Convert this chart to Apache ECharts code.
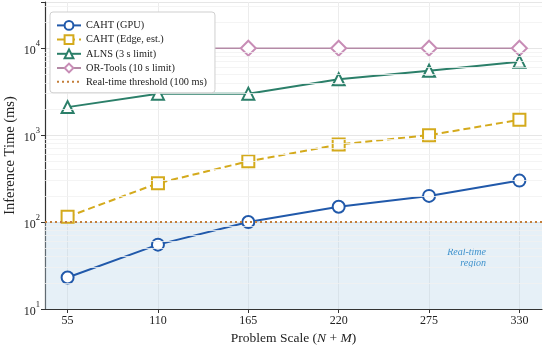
<!DOCTYPE html>
<html><head><meta charset="utf-8">
<script src="https://cdn.jsdelivr.net/npm/echarts@6/dist/echarts.min.js"></script>
<style>html,body{margin:0;padding:0;background:#fff}#c{width:550px;height:349px}</style>
</head><body><div id="c"></div>
<script>
const categories = [55, 110, 165, 220, 275, 330];
const cahtGpu = [23, 55, 100, 150, 200, 300];
const cahtEdge = [115, 280, 500, 780, 1000, 1500];
const alns = [2100, 3000, 3000, 4400, 5500, 7000];
const orTools = [10000, 10000, 10000, 10000, 10000, 10000];
const threshold = 100;
const minorGrid = [20,30,40,50,60,70,80,90,200,300,400,500,600,700,800,900,2000,3000,4000,5000,6000,7000,8000,9000,20000,30000];

const serif = '"Liberation Serif", "DejaVu Serif", serif';
const chart = echarts.init(document.getElementById('c'));
function pts(arr){ return categories.map((c,i)=>[c, arr[i]]); }
const symStyle = (c)=>({color:'#fff', borderColor:c, borderWidth:2});

chart.setOption({
  animation:false,
  textStyle:{fontFamily:serif},
  grid:{left:45, right:8, top:2, bottom:40, containLabel:false, outerBoundsMode:'none'},
  legend:{
    orient:'vertical', left:50, top:12, padding:[8,8,6,6], z:50,
    backgroundColor:'#fff', borderColor:'#cfcfcf', borderWidth:1, borderRadius:3,
    itemWidth:24, itemHeight:11, itemGap:3.4,
    textStyle:{fontFamily:serif, fontSize:10.3, color:'#222'},
    data:['CAHT (GPU)','CAHT (Edge, est.)','ALNS (3 s limit)','OR-Tools (10 s limit)',
      {name:'Real-time threshold (100 ms)', itemStyle:{color:'rgba(0,0,0,0)', borderColor:'rgba(0,0,0,0)', borderWidth:0, opacity:0}}]
  },
  xAxis:{
    type:'value', min:41.25, max:343.75,
    name:'{n|Problem Scale (}{i|N}{n| + }{i|M}{n|)}', nameLocation:'middle', nameGap:22,
    nameTextStyle:{rich:{n:{fontFamily:serif,fontSize:13.5,color:'#222'}, i:{fontFamily:serif,fontSize:13.5,fontStyle:'italic',color:'#222'}}},
    axisLine:{show:true, onZero:false, lineStyle:{color:'#333', width:1.2}},
    axisTick:{show:true, customValues:categories, length:4, lineStyle:{color:'#333'}},
    axisLabel:{customValues:categories, fontFamily:serif, fontSize:12, color:'#222', margin:6},
    splitLine:{show:true, lineStyle:{color:'#ececec', width:1}}
  },
  yAxis:{
    type:'log', logBase:10, min:10, max:34000,
    name:'Inference Time (ms)', nameLocation:'middle', nameGap:27, nameMoveOverlap:false,
    nameTextStyle:{fontFamily:serif, fontSize:14.5, color:'#222'},
    axisLine:{show:true, lineStyle:{color:'#333', width:1.2}},
    axisTick:{show:true, length:4, lineStyle:{color:'#333'}},
    axisLabel:{fontFamily:serif, fontSize:12, color:'#222', margin:5,
      formatter:function(v){
        const e = Math.round(Math.log10(v));
        if (Math.abs(Math.log10(v)-e) > 1e-6) return '';
        return '{b|10}{s|' + e + '}';
      },
      rich:{b:{fontFamily:serif,fontSize:12,color:'#222',lineHeight:18,verticalAlign:'bottom'},
            s:{fontFamily:serif,fontSize:8.5,color:'#222',lineHeight:18,verticalAlign:'top'}}
    },
    splitLine:{show:true, lineStyle:{color:'#e6e6e6', width:1}}
  },
  series:[
    {name:'Real-time threshold (100 ms)', type:'line', data:[], symbol:'none', z:1,
     color:'#c47f3a',
     lineStyle:{color:'#c47f3a', type:[2,3], width:2},
     markArea:{silent:true, itemStyle:{color:'rgba(184,212,232,0.35)'},
       label:{show:true, position:'insideRight', distance:56, offset:[0,-8], formatter:'Real-time\nregion',
              fontFamily:serif, fontStyle:'italic', fontSize:10, color:'#3f92cc', align:'right', lineHeight:11},
       data:[[{yAxis:10},{yAxis:threshold}]]},
     markLine:{silent:true, symbol:'none', label:{show:false},
       lineStyle:{color:'#c47f3a', type:[2,3], width:2},
       data:[{yAxis:threshold}]}
    },
    {name:'grid-minor', type:'line', data:[], symbol:'none', z:0,
     markLine:{silent:true, symbol:'none', label:{show:false},
       lineStyle:{color:'#f1f1f1', type:'solid', width:0.8},
       data:minorGrid.map(v=>({yAxis:v}))}
    },
    {name:'OR-Tools (10 s limit)', type:'line', data:pts(orTools), z:2,
     color:'#c48ab2', symbol:'diamond', symbolSize:15,
     lineStyle:{color:'#b48aa6', width:1.6}, itemStyle:symStyle('#c88db6')},
    {name:'ALNS (3 s limit)', type:'line', data:pts(alns), z:2,
     color:'#2b7f69', symbol:'triangle', symbolSize:12,
     lineStyle:{color:'#2b7f69', width:2}, itemStyle:symStyle('#2b7f69')},
    {name:'CAHT (Edge, est.)', type:'line', data:pts(cahtEdge), z:2,
     color:'#d4aa1c', symbol:'rect', symbolSize:12,
     lineStyle:{color:'#d4aa1c', width:2, type:[7,4]}, itemStyle:symStyle('#d4aa1c')},
    {name:'CAHT (GPU)', type:'line', data:pts(cahtGpu), z:3,
     color:'#2159aa', symbol:'circle', symbolSize:12,
     lineStyle:{color:'#2159aa', width:2}, itemStyle:symStyle('#2159aa')}
  ]
});
</script></body></html>
